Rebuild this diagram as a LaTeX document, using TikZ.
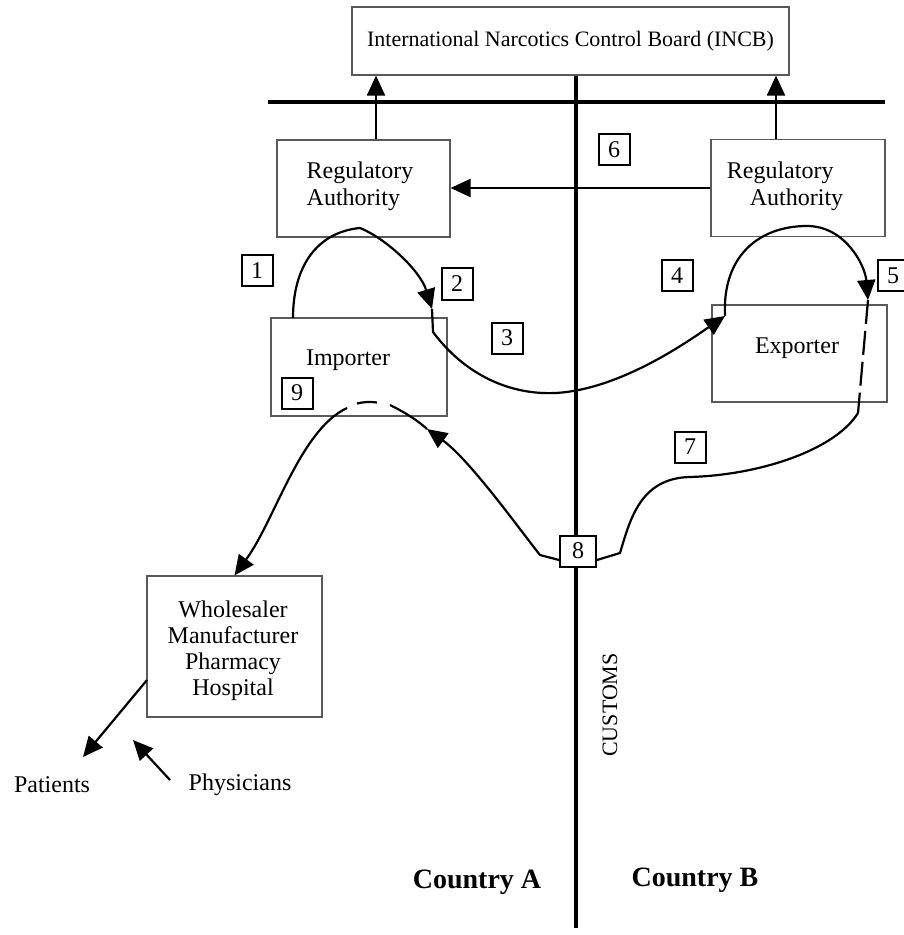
\documentclass[tikz,border=0pt]{standalone}
\usepackage{fontspec}
\setmainfont{Liberation Serif}
\usetikzlibrary{arrows.meta}

\begin{document}
\begin{tikzpicture}[x=0.5pt,y=-0.5pt,
    box/.style={draw=black!65,line width=0.6pt,inner sep=0pt},
    txt/.style={inner sep=0pt,font=\fontsize{12}{13.5}\selectfont},
    num/.style={draw,line width=1pt,fill=white,minimum size=15.5pt,inner sep=0pt,font=\fontsize{12}{14}\selectfont},
    route/.style={line width=1.1pt},
    flow/.style={route,-{Triangle[length=10pt,width=9pt]}},
    bar/.style={line width=2pt}]
    \useasboundingbox (0,0) rectangle (903,935);
    % INCB and the two border lines
    \node[box,minimum width=218.5pt,minimum height=34pt,font=\fontsize{11}{13}\selectfont] (incb) at (570.5,41) {International Narcotics Control Board (INCB)};
    \coordinate (hl) at (268,102);
    \coordinate (hr) at (885,102);
    \coordinate (vb) at (576,928);
    \draw[bar] (hl) -- (hr);
    \draw[bar] (incb.south -| vb) -- (vb);
    % authorities
    \node[box,minimum width=86.5pt,minimum height=48.5pt] (regA) at (363.5,188.5) {};
    \node[txt,align=left] (regAtxt) at (360,186) {Regulatory\\Authority};
    \node[box,minimum width=87pt,minimum height=48.5pt] (regB) at (798,188) {};
    \node[txt,align=left] (regBtxt) at (785,186) {Regulatory\\\hspace*{11.5pt}Authority};
    % companies
    \node[box,minimum width=88pt,minimum height=49pt] (imp) at (359,367) {};
    \node[txt] (imptxt) at (348,360) {Importer};
    \node[box,minimum width=87.5pt,minimum height=48.5pt] (exp) at (799.5,353.5) {};
    \node[txt] (exptxt) at (797,348) {Exporter};
    \node[box,minimum width=87.5pt,minimum height=70.5pt] (whs) at (234.5,646.5) {};
    \node[txt,align=center,font=\fontsize{12}{13}\selectfont] (whstxt) at (233,651) {Wholesaler\\Manufacturer\\Pharmacy\\Hospital};
    \node[txt] (pat) at (52,785) {Patients};
    \node[txt] (phy) at (240,785) {Physicians};
    % step numbers
    \foreach \n/\x/\y in {1/257/271, 2/457/284, 3/507/338, 4/677/276, 5/893/276, 6/614/150, 7/690/447, 9/297/393}
        \node[num] (n\n) at (\x,\y) {\n};
    % reports to the board
    \coordinate (upA) at (376,0);
    \coordinate (upB) at (776,0);
    \draw[flow] (regA.north -| upA) -- (incb.south -| upA);
    \draw[flow] (regB.north -| upB) -- (incb.south -| upB);
    \draw[flow] (regB.west) -- (regB.west -| regA.east);
    % points along the routes
    \coordinate (c1) at (293,318);
    \coordinate (c2) at (360,228);
    \coordinate (c3) at (432,309);
    \coordinate (c4) at (433,332);
    \coordinate (c5) at (725,316);
    \coordinate (c6) at (807,226);
    \coordinate (c7) at (868,300);
    \coordinate (c8) at (858,413);
    \coordinate (c9) at (690,477);
    \coordinate (c10) at (620,553);
    \coordinate (c11) at (427,429);
    \coordinate (c12) at (390,405);
    \coordinate (c13) at (377,402.5);
    \coordinate (c14) at (357,403.5);
    \coordinate (c15) at (347,408);
    \coordinate (p1) at (147,680);
    \coordinate (p2) at (83,757);
    \coordinate (q1) at (170,780);
    \coordinate (q2) at (133,740);
    % customs post on the border
    \node[num,minimum width=18pt] (n8) at (578,551) {8};
    % import licence
    \draw[flow] (c1) .. controls (293,265) and (318,232) .. (c2) .. controls (385,238) and (420,270) .. (c3);
    \draw[flow] (c3) -- (c4) .. controls (465,375) and (510,395) .. (555,393) .. controls (620,390) and (690,340) .. (c5);
    % export licence
    \draw[flow] (c5) .. controls (722,255) and (760,226) .. (c6) .. controls (845,226) and (865,265) .. (c7);
    % shipment
    \draw[route,dash pattern=on 12pt off 3.5pt] (c7) -- (c8);
    \draw[route] (c8) .. controls (835,450) and (760,475) .. (c9) .. controls (640,478) and (630,520) .. (c10) -- ([yshift=-4.5pt]n8.east);
    \draw[flow] ([yshift=-4.5pt]n8.west) -- (540,555) .. controls (520,530) and (470,460) .. (c11);
    \draw[route] (c11) .. controls (415,418) and (400,410) .. (c12);
    \draw[route] (c13) .. controls (370,401.5) and (363,402) .. (c14);
    \draw[flow] (c15) .. controls (300,430) and (275,520) .. (whs.north);
    % patients and physicians
    \draw[flow] (p1) -- (p2);
    \draw[flow] (q1) -- (q2);
    % labels
    \node[rotate=90,font=\fontsize{11}{13}\selectfont] (cust) at (610,705) {CUSTOMS};
    \node[font=\fontsize{14}{16}\selectfont\bfseries] (ctyA) at (477,882) {Country A};
    \node[font=\fontsize{14}{16}\selectfont\bfseries] (ctyB) at (695,880) {Country B};
\end{tikzpicture}
\end{document}
